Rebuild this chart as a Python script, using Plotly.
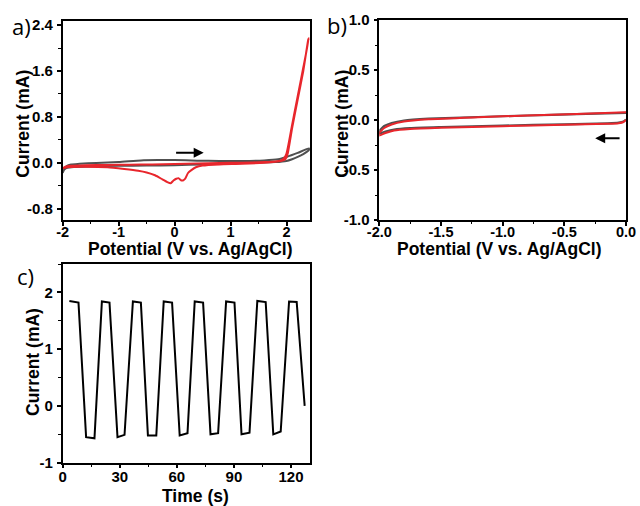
import plotly.graph_objects as go

# ---------------- data ----------------
# panel a: CV, -2 .. 2.4 V
a_gray_V = [-2.0, -1.97, -1.93, -1.85, -1.7, -1.4, -1.0, -0.6, -0.3, 0.0, 0.4, 0.8, 1.2, 1.6, 1.85, 2.0, 2.2, 2.4,
            2.4, 2.3, 2.2, 2.1, 2.0, 1.8, 1.5, 1.0, 0.5, 0.0, -0.5, -1.0, -1.5, -1.8, -1.92, -1.97, -2.0]
a_gray_I = [-0.18, -0.11, -0.06, -0.03, -0.02, -0.005, 0.01, 0.04, 0.045, 0.045, 0.035, 0.03, 0.03, 0.04, 0.06, 0.1, 0.17, 0.25,
            0.22, 0.15, 0.1, 0.06, 0.03, 0.01, 0.0, -0.015, -0.03, -0.045, -0.05, -0.055, -0.065, -0.075, -0.09, -0.12, -0.16]

a_red_V = [-2.0, -1.95, -1.85, -1.6, -1.2, -0.8, -0.4, 0.0, 0.4, 0.8, 1.2, 1.6, 1.8, 1.9, 1.95, 2.0, 2.1, 2.2, 2.3, 2.4,
           2.39, 2.3, 2.2, 2.1, 2.02, 1.98, 1.9, 1.6, 1.2, 0.8, 0.5, 0.38, 0.3, 0.24, 0.19, 0.15, 0.12, 0.07, 0.03,
           -0.02, -0.07, -0.13, -0.22, -0.35, -0.5, -0.65, -0.9, -1.2, -1.6, -1.9, -2.0]
a_red_I = [-0.1, -0.07, -0.055, -0.045, -0.04, -0.035, -0.03, -0.025, -0.015, -0.005, 0.0, 0.01, 0.02, 0.04, 0.07, 0.16, 0.66, 1.16, 1.66, 2.17,
           2.15, 1.6, 1.1, 0.6, 0.15, 0.06, 0.03, 0.0, -0.02, -0.03, -0.05, -0.08, -0.13, -0.18, -0.28, -0.31, -0.31, -0.27, -0.28,
           -0.31, -0.36, -0.34, -0.29, -0.22, -0.17, -0.14, -0.11, -0.08, -0.07, -0.075, -0.1]

# panel b: CV, -2 .. 0 V
b_V = [0.0, -0.02, -0.06, -0.15, -0.5, -1.0, -1.5, -1.75, -1.88, -1.95, -2.0,
       -2.0, -1.96, -1.9, -1.8, -1.6, -1.2, -0.8, -0.4, 0.0]
b_gray_I = [0.005, -0.015, -0.027, -0.033, -0.043, -0.056, -0.07, -0.08, -0.095, -0.115, -0.135,
            -0.11, -0.06, -0.03, -0.005, 0.013, 0.03, 0.045, 0.058, 0.072]
b_red_I = [0.0, -0.02, -0.032, -0.038, -0.048, -0.062, -0.078, -0.09, -0.105, -0.13, -0.155,
           -0.13, -0.08, -0.045, -0.015, 0.008, 0.028, 0.045, 0.06, 0.077]

# panel c: current vs time
c_t = [3.5, 8.3, 12.3, 16.7, 20.6, 24.6, 28.8, 32.5, 36.9, 41.1, 44.8, 49.2, 53.1, 57.5, 61.5, 65.6,
       69.4, 73.8, 77.7, 81.7, 85.9, 90.3, 94.0, 98.2, 102.3, 106.7, 110.7, 114.6, 119.0, 123.0, 127.2]
c_I = [1.85, 1.82, -0.55, -0.57, 1.84, 1.82, -0.55, -0.51, 1.84, 1.82, -0.52, -0.52, 1.84, 1.82, -0.52, -0.48,
       1.84, 1.82, -0.5, -0.48, 1.84, 1.82, -0.5, -0.47, 1.85, 1.83, -0.5, -0.45, 1.84, 1.83, 0.0]

# tick labels
a_xticks = [-2, -1, 0, 1, 2]
a_xtext = ["-2", "-1", "0", "1", "2"]
a_yticks = [-0.8, 0.0, 0.8, 1.6, 2.4]
a_ytext = ["-0.8", "0.0", "0.8", "1.6", "2.4"]
b_xticks = [-2.0, -1.5, -1.0, -0.5, 0.0]
b_xtext = ["-2.0", "-1.5", "-1.0", "-0.5", "0.0"]
b_yticks = [-1.0, -0.5, 0.0, 0.5, 1.0]
b_ytext = ["-1.0", "-0.5", "0.0", "0.5", "1.0"]
c_xticks = [0, 30, 60, 90, 120]
c_xtext = ["0", "30", "60", "90", "120"]
c_yticks = [-1, 0, 1, 2]
c_ytext = ["-1", "0", "1", "2"]

GRAY = "#505050"
RED = "#e8262c"
W, H = 640, 506

fig = go.Figure()
fig.add_trace(go.Scatter(x=a_gray_V, y=a_gray_I, mode="lines", line=dict(color=GRAY, width=2, shape="spline", smoothing=0.5), xaxis="x", yaxis="y"))
fig.add_trace(go.Scatter(x=a_red_V, y=a_red_I, mode="lines", line=dict(color=RED, width=2, shape="spline", smoothing=0.5), xaxis="x", yaxis="y"))
fig.add_trace(go.Scatter(x=b_V, y=b_gray_I, mode="lines", line=dict(color=GRAY, width=2.2, shape="spline", smoothing=0.5), xaxis="x2", yaxis="y2"))
fig.add_trace(go.Scatter(x=b_V, y=b_red_I, mode="lines", line=dict(color=RED, width=2, shape="spline", smoothing=0.5), xaxis="x2", yaxis="y2"))
fig.add_trace(go.Scatter(x=c_t, y=c_I, mode="lines", line=dict(color="black", width=2), xaxis="x3", yaxis="y3"))


def ax(domain, rng, tv, tt, minor_dtick, anchor, fsize, standoff):
    return dict(domain=domain, range=rng, tickvals=tv, ticktext=tt, anchor=anchor, automargin=False,
                showline=True, mirror=True, linecolor="black", linewidth=1.5,
                ticks="outside", ticklen=4, tickwidth=1.5, tickcolor="black",
                minor=dict(ticks="outside", ticklen=2.5, tickwidth=1.2, tickcolor="black", dtick=minor_dtick),
                showgrid=False, zeroline=False, ticklabelstandoff=standoff,
                tickfont=dict(family="Liberation Sans, Arial", size=fsize, color="black", weight="bold"))


fig.update_layout(
    width=W, height=H, margin=dict(l=0, r=0, t=0, b=0, autoexpand=False),
    paper_bgcolor="white", plot_bgcolor="white", showlegend=False,
    xaxis=ax([62.7 / W, 310 / W], [-2, 2.42], a_xticks, a_xtext, 0.5, "y", 14.5, -6),
    yaxis=ax([1 - 220 / H, 1 - 20.5 / H], [-1.0, 2.48], a_yticks, a_ytext, 0.4, "x", 15, 1),
    xaxis2=ax([379.3 / W, 626 / W], [-2.0, 0.0], b_xticks, b_xtext, 0.25, "y2", 14.5, -6),
    yaxis2=ax([1 - 220 / H, 1 - 20 / H], [-1.0, 1.0], b_yticks, b_ytext, 0.25, "x2", 15, 1),
    xaxis3=ax([62.7 / W, 310 / W], [0, 130], c_xticks, c_xtext, 15, "y3", 15, -4),
    yaxis3=ax([1 - 462.7 / H, 1 - 264 / H], [-1.0, 2.5], c_yticks, c_ytext, 0.5, "x3", 15, 1),
)

title_font = dict(family="Liberation Sans, Arial", size=17.5, color="black", weight="bold")
label_font = dict(family="Open Sans, Noto Sans", size=22, color="black")


def note(text, x, y, font, angle=0):
    fig.add_annotation(text=text, x=x / W, y=1 - y / H, xref="paper", yref="paper",
                       showarrow=False, font=font, textangle=angle, xanchor="center", yanchor="middle")


note("Current (mA)", 22.7, 124, title_font, -90)
note("Potential (V vs. Ag/AgCl)", 190, 249, title_font)
note("Current (mA)", 341.7, 124, title_font, -90)
note("Potential (V vs. Ag/AgCl)", 499, 249, title_font)
note("Current (mA)", 33, 362, title_font, -90)
note("Time (s)", 195, 495.5, title_font)
note("a)", 21, 26, label_font)
note("b)", 336.7, 25, label_font)
note("c)", 25, 276, label_font)

# scan-direction arrows
fig.add_annotation(x=0.52, y=0.175, ax=0.0, ay=0.175, xref="x", yref="y", axref="x", ayref="y",
                   showarrow=True, arrowhead=2, arrowsize=1, arrowwidth=2, arrowcolor="black", text="")
fig.add_annotation(x=-0.25, y=-0.183, ax=-0.04, ay=-0.183, xref="x2", yref="y2", axref="x2", ayref="y2",
                   showarrow=True, arrowhead=2, arrowsize=1, arrowwidth=2, arrowcolor="black", text="")

fig.write_html("out.html", config={"displayModeBar": False},
               post_script="document.body.style.margin='0';document.body.style.overflow='hidden';")
